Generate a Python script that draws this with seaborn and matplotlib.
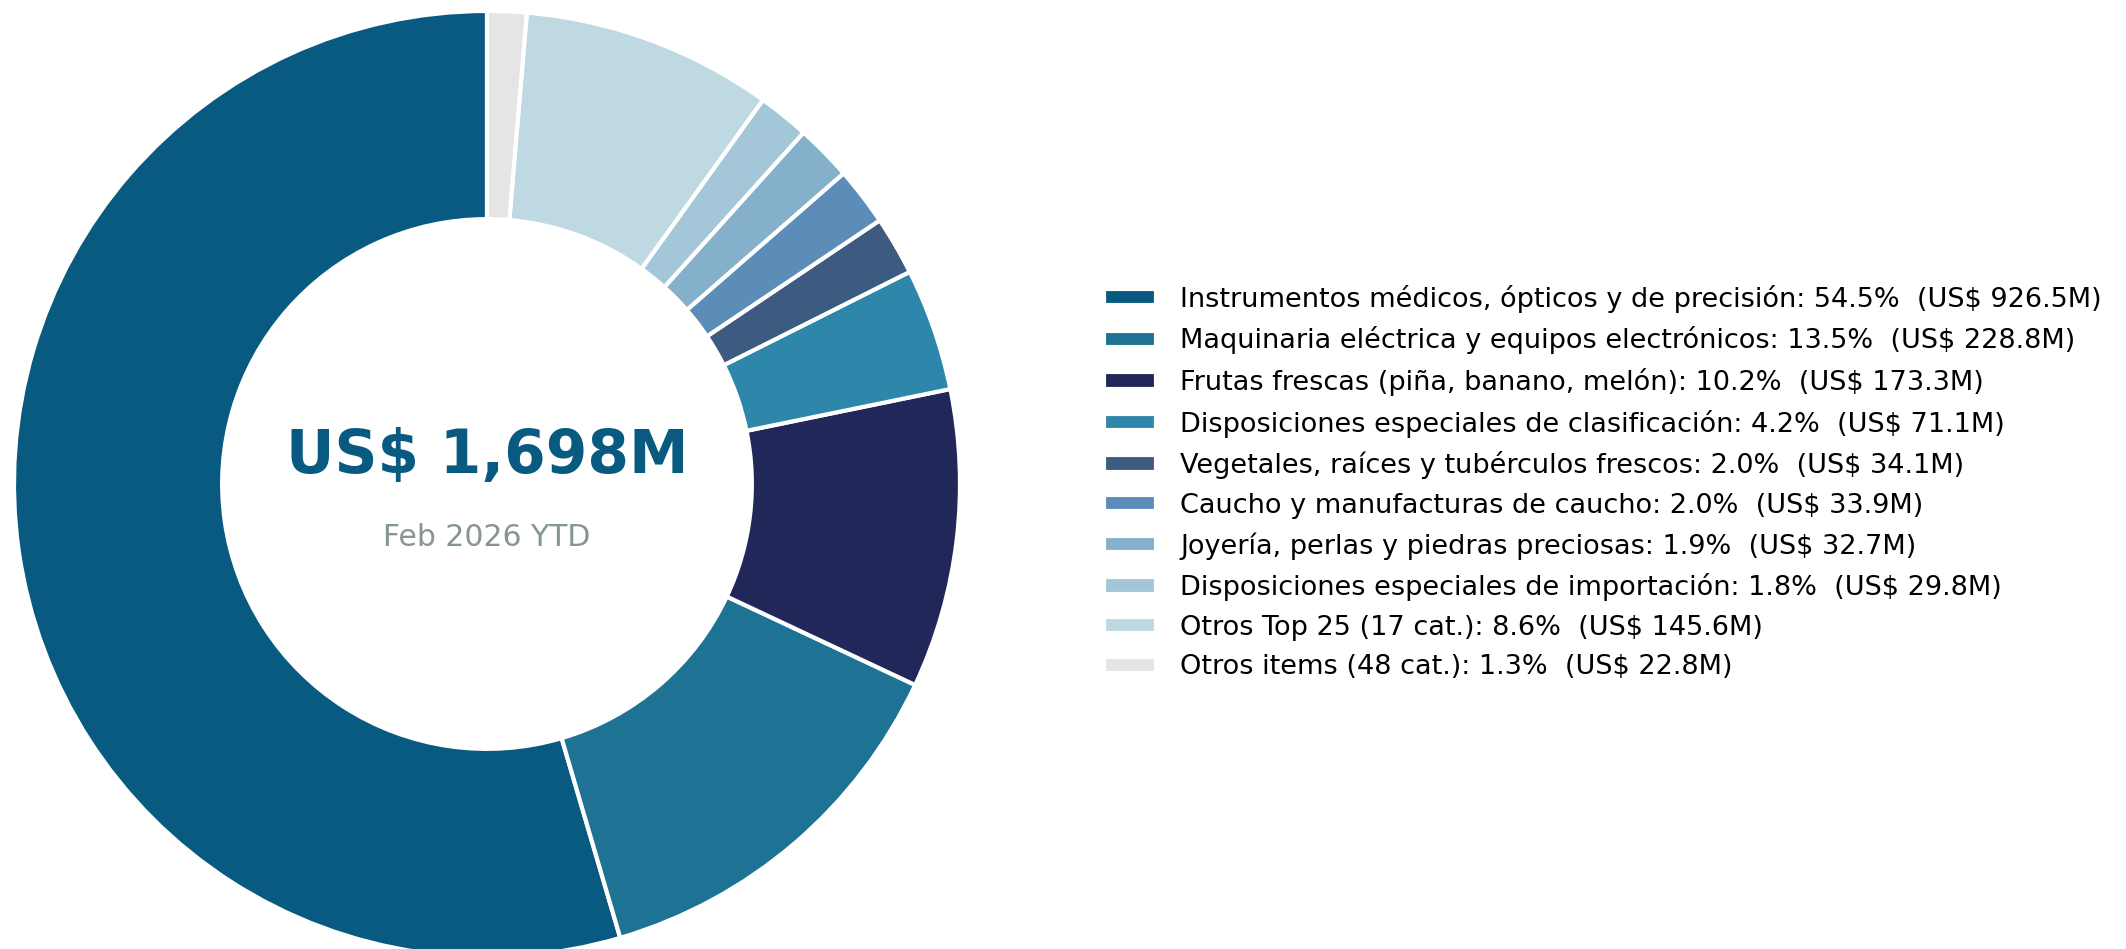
import matplotlib
matplotlib.use('Agg')
import matplotlib.pyplot as plt
import seaborn as sns

# Data (US$ millions, Feb 2026 YTD)
categories = [
    'Instrumentos médicos, ópticos y de precisión',
    'Maquinaria eléctrica y equipos electrónicos',
    'Frutas frescas (piña, banano, melón)',
    'Disposiciones especiales de clasificación',
    'Vegetales, raíces y tubérculos frescos',
    'Caucho y manufacturas de caucho',
    'Joyería, perlas y piedras preciosas',
    'Disposiciones especiales de importación',
    'Otros Top 25 (17 cat.)',
    'Otros items (48 cat.)',
]
values = [926.5, 228.8, 173.3, 71.1, 34.1, 33.9, 32.7, 29.8, 145.6, 22.8]
colors = ['#085a80', '#1e7394', '#22275a', '#2e87ab', '#3d5b80',
          '#5b8db8', '#85b0cb', '#a3c7d8', '#bfd9e2', '#e5e5e5']
center_title = 'US$ 1,698M'
center_sub = 'Feb 2026 YTD'

sns.set_theme(style='white')
plt.rcParams['font.family'] = ['DejaVu Sans']

total = sum(values)
labels = [f'{c}: {v / total * 100:.1f}%  (US$ {v:.1f}M)' for c, v in zip(categories, values)]

fig = plt.figure(figsize=(21.26, 9.49), dpi=100)
W, H = 2126, 949
cx, cy, r = 487, 465, 473
ax = fig.add_axes([(cx - r) / W, (cy - r) / H, 2 * r / W, 2 * r / H])

wedges, _ = ax.pie(values, colors=colors, startangle=90, counterclock=True,
                   wedgeprops=dict(width=0.44, edgecolor='white', linewidth=3))
ax.set_xlim(-1, 1)
ax.set_ylim(-1, 1)
ax.set_aspect('equal')
ax.axis('off')

ax.text(0, 0.058, center_title, ha='center', va='center', fontsize=43,
        fontweight='bold', color='#085a80')
ax.text(0, -0.114, center_sub, ha='center', va='center', fontsize=21.5, color='#869595')

leg = fig.legend(wedges, labels, loc='center left', bbox_to_anchor=(0.508, 0.4915),
                 bbox_transform=fig.transFigure, frameon=False, fontsize=19.5,
                 handlelength=1.9, handleheight=0.55, labelspacing=0.5, handletextpad=0.9)
for t in leg.get_texts():
    t.set_color('black')

fig.savefig('out.png', dpi=100)
